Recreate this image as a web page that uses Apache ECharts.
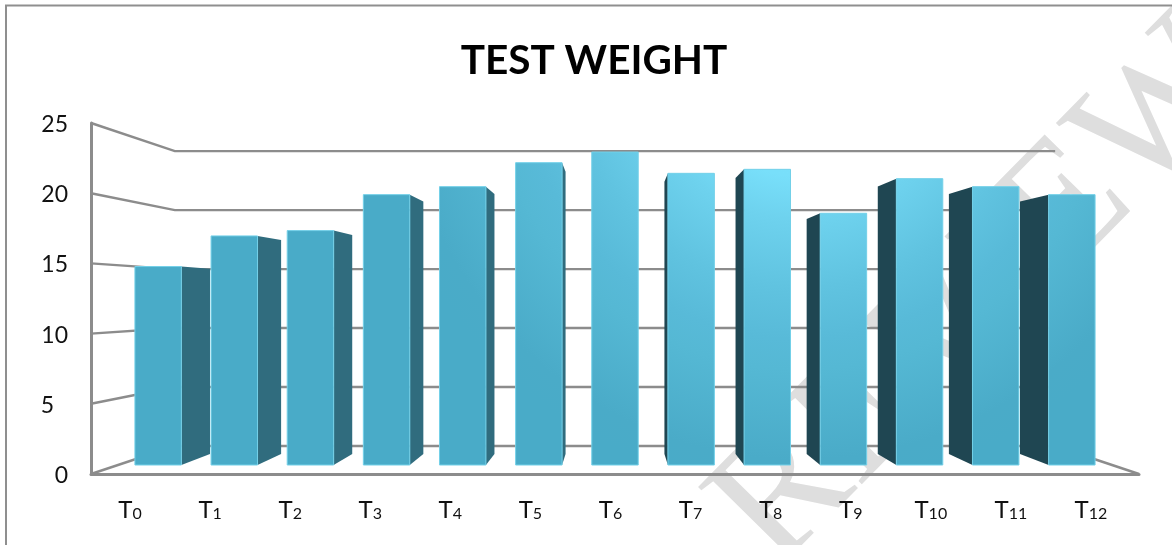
<!DOCTYPE html>
<html>
<head>
<meta charset="utf-8">
<style>html,body{margin:0;padding:0;background:#fff}#c{width:1172px;height:545px}</style>
<script src="https://cdn.jsdelivr.net/npm/echarts@6/dist/echarts.min.js"></script>
</head>
<body>
<div id="c"></div>
<script>
const titleText = 'TEST WEIGHT';
const categories = ['0','1','2','3','4','5','6','7','8','9','10','11','12'];
const testWeight = [14.9,17.2,17.6,20.3,20.9,22.7,23.5,21.9,22.2,18.9,21.5,20.9,20.3];
const yTicks = [0,5,10,15,20,25];

// perspective of the pseudo-3D chart (vanishing point, depth ratios)
const VP = [615, 299];
const BACK_WALL = 0.84, BAR_X = 0.9445, BAR_Y = 0.9486, BAR_DEPTH = 0.934, HALF_BAND = 0.305;
const GRAY = '#8c8c8c';
const fillFront = {
  type:'radial', x:800, y:60, r:430, global:true,
  colorStops:[
    {offset:0,color:'#7CE2FC'},{offset:0.27,color:'#78DFFA'},{offset:0.37,color:'#6ED2EE'},
    {offset:0.53,color:'#60C3E0'},{offset:0.65,color:'#58BAD8'},{offset:0.72,color:'#55B8D4'},
    {offset:0.93,color:'#4AABC8'},{offset:1,color:'#49ABC8'}
  ]
};
const toward = (p, kx, ky) => [VP[0]+kx*(p[0]-VP[0]), VP[1]+(ky===undefined?kx:ky)*(p[1]-VP[1])];

function renderWall(params, api){
  const cs = params.coordSys;
  const v = api.value(1);
  const y = api.coord([0,v])[1];
  const l = [cs.x, y], r = [cs.x+cs.width, y];
  const children = [{
    type:'polyline',
    shape:{points:[l, toward(l,BACK_WALL), toward(r,BACK_WALL)]},
    style:{stroke:GRAY,lineWidth:2.4,fill:null}
  }];
  if(v===0){
    children.push({type:'line',
      shape:{x1:r[0],y1:r[1],x2:toward(r,BACK_WALL)[0],y2:toward(r,BACK_WALL)[1]},
      style:{stroke:GRAY,lineWidth:2.4}});
  }
  return {type:'group',children};
}

function renderBar(params, api){
  const i = api.value(0), v = api.value(1);
  const band = api.size([1,0])[0];
  const top = api.coord([i,v]), base = api.coord([i,0]);
  const hw = band*HALF_BAND;
  const tl = toward([top[0]-hw,top[1]],BAR_X,BAR_Y), tr = toward([top[0]+hw,top[1]],BAR_X,BAR_Y);
  const bl = toward([top[0]-hw,base[1]],BAR_X,BAR_Y), br = toward([top[0]+hw,base[1]],BAR_X,BAR_Y);
  const cx = (tl[0]+tr[0])/2;
  const children = [];
  if(Math.abs(cx-VP[0])>2){
    const rightOfVP = cx>VP[0];
    const a = rightOfVP?tl:tr, b = rightOfVP?bl:br;
    children.push({type:'polygon',
      shape:{points:[a,toward(a,BAR_DEPTH),toward(b,BAR_DEPTH),b]},
      style:{fill:rightOfVP?'#1F4652':'#306C7E',stroke:null}});
  }
  children.push({type:'polygon',
    shape:{points:[tl,tr,br,bl]},
    style:{fill:fillFront,stroke:'#73D0E8',lineWidth:1}});
  return {type:'group',children};
}

const chart = echarts.init(document.getElementById('c'),null,{renderer:'canvas'});
const FONT = 'Lato, "Open Sans", sans-serif';
chart.setOption({
  backgroundColor:'#ffffff',
  animation:false,
  title:{text:titleText,left:589,top:35,textAlign:'center',
    textStyle:{fontFamily:FONT,fontSize:40.5,fontWeight:'bold',color:'#000'}},
  graphic:[
    {type:'text',z:0,silent:true,x:806,y:600,rotation:45.5*Math.PI/180,
      style:{text:'REVIEW',font:'175px "Liberation Serif"',fill:'#dedede',align:'left',verticalAlign:'bottom'}},
    {type:'polyline',z:1,silent:true,shape:{points:[[6,545],[6,5.5],[1172,5.5]]},style:{stroke:'#8f8f8f',lineWidth:2,fill:null}}
  ],
  grid:[
    {left:91,right:33,top:123,bottom:71},
    {left:90,width:1041,top:123,bottom:71}
  ],
  xAxis:[
    {type:'category',gridIndex:0,data:categories,
      axisLine:{show:true,lineStyle:{color:GRAY,width:3}},axisTick:{show:false},axisLabel:{show:false}},
    {type:'category',gridIndex:1,data:categories,
      axisLine:{show:false},axisTick:{show:false},
      axisLabel:{margin:24,interval:0,formatter:v=>'{t|T}{s|'+v+'}',
        rich:{t:{fontFamily:FONT,fontSize:24,color:'#111'},
              s:{fontFamily:FONT,fontSize:16,color:'#111',verticalAlign:'bottom',padding:[8,0,0,0]}}}}
  ],
  yAxis:[
    {type:'value',gridIndex:0,min:0,max:25,interval:5,
      axisLine:{show:true,lineStyle:{color:GRAY,width:3}},axisTick:{show:false},splitLine:{show:false},
      axisLabel:{margin:23,color:'#111',fontFamily:FONT,fontSize:23,padding:[3,0,0,0],
        formatter:v=>v===5?'{five|5}':String(v),
        rich:{five:{fontFamily:FONT,fontSize:23,color:'#111',padding:[0,14,0,0]}}}},
    {type:'value',gridIndex:1,min:0,max:25,interval:5,show:false}
  ],
  series:[
    {type:'custom',name:'walls',xAxisIndex:0,yAxisIndex:0,z:1,clip:false,silent:true,
      renderItem:renderWall,encode:{x:0,y:1},data:yTicks.map(t=>[0,t])},
    {type:'custom',name:'Test weight',xAxisIndex:0,yAxisIndex:0,z:3,clip:false,
      renderItem:renderBar,encode:{x:0,y:1},data:testWeight.map((v,i)=>[i,v])}
  ]
});
</script>
</body>
</html>
